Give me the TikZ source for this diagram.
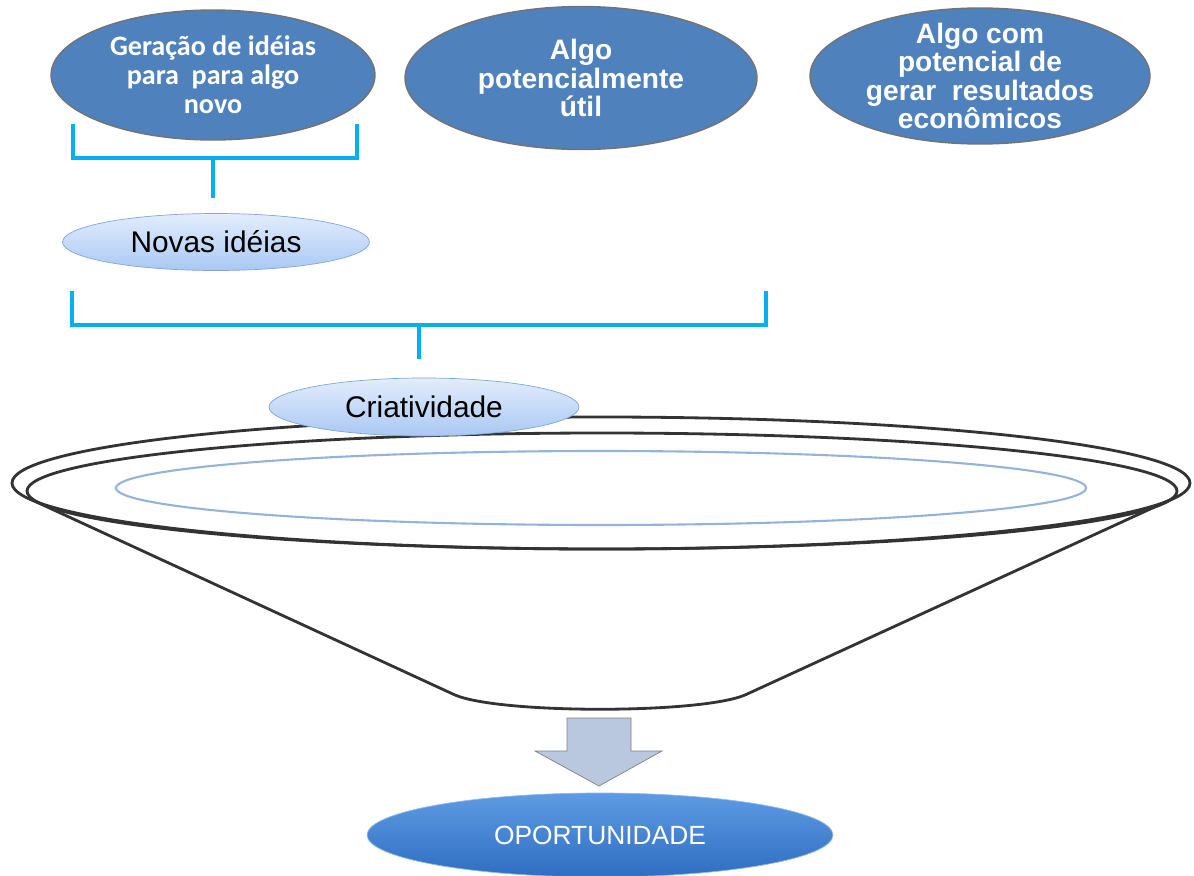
\documentclass[tikz,border=0pt]{standalone}
\usepackage{fontspec}
\setmainfont{Liberation Sans}
\newfontfamily\calibri{Carlito}
\usetikzlibrary{shapes.geometric}

\definecolor{blobblue}{HTML}{4F81BD}
\definecolor{paletop}{HTML}{E3EDFC}
\definecolor{palebot}{HTML}{A9C8F4}
\definecolor{paleedge}{HTML}{7FA6DA}
\definecolor{bracecyan}{HTML}{00B0F0}
\definecolor{rimblue}{HTML}{95B3D7}
\definecolor{arrowfill}{HTML}{B9C8DF}
\definecolor{opptop}{HTML}{5E9BE3}
\definecolor{oppbot}{HTML}{2F6DC2}

\begin{document}
\begin{tikzpicture}[
     x = 0.02cm,
     y = -0.02cm,
     every node/.style = {align=center}
    ]
    \tikzstyle{topblob}=[ellipse, draw=black!55, line width=0.8pt, fill=blobblue, text=white, inner sep=0pt, font=\bfseries\fontsize{16}{16}\selectfont]
    \tikzstyle{paleblob}=[ellipse, draw=paleedge, top color=paletop, bottom color=palebot, inner sep=0pt, font=\fontsize{17}{19}\selectfont]
    \tikzstyle{brace}=[draw=bracecyan, line width=2.8pt]
    \tikzstyle{rim}=[draw=black!80, line width=1.6pt]

    \useasboundingbox (0,0) rectangle (1194,876);

    \node[topblob, minimum width=6.48cm, minimum height=2.6cm, font=\calibri\bfseries\fontsize{16}{16.5}\selectfont] (geracao) at (213,75) {Geração de idéias\\para\ \ para algo\\novo};
    \node[topblob, minimum width=7.04cm, minimum height=2.86cm] (util) at (581,78) {Algo\\potencialmente\\útil};
    \node[topblob, minimum width=6.8cm, minimum height=2.72cm, inner ysep=-5pt] (economico) at (980,76) {Algo com\\potencial de\\gerar\ \ resultados\\econômicos};

    \node[paleblob, minimum width=6.14cm, minimum height=1.14cm] (novas) at (216,242) {Novas idéias};

    % chaves
    \coordinate (stem1) at (213,198);
    \coordinate (stem2) at (419,359);
    \draw[brace] (73,124) |- (357,158) -- (357,124);
    \draw[brace] (stem1 |- 0,158) -- (stem1);
    \draw[brace] (72,291) |- (766,325) -- (766,291);
    \draw[brace] (stem2 |- 0,325) -- (stem2);

    % funil
    \draw[rim] (30,499) -- (455,695) .. controls (500,714) and (700,714) .. (745,695) -- (1172,499);
    \draw[rim] (601,483) ellipse [x radius=589, y radius=66];
    \draw[rim] (602,491) ellipse [x radius=575, y radius=58];
    \draw[draw=rimblue, line width=1.2pt] (601,488) ellipse [x radius=485, y radius=37];

    \node[paleblob, minimum width=6.2cm, minimum height=1.16cm] (criatividade) at (424,407) {Criatividade};

    \draw[draw=black!50, fill=arrowfill] (567,718) -- (631,718) -- (631,751) -- (662,751) -- (599,786) -- (535,751) -- (567,751) -- cycle;

    \node[ellipse, draw=opptop!70, top color=opptop, bottom color=oppbot, text=white, inner sep=0pt, minimum width=9.32cm, minimum height=1.68cm, font=\fontsize{15}{17}\selectfont] (oportunidade) at (600,835) {OPORTUNIDADE};
\end{tikzpicture}
\end{document}
